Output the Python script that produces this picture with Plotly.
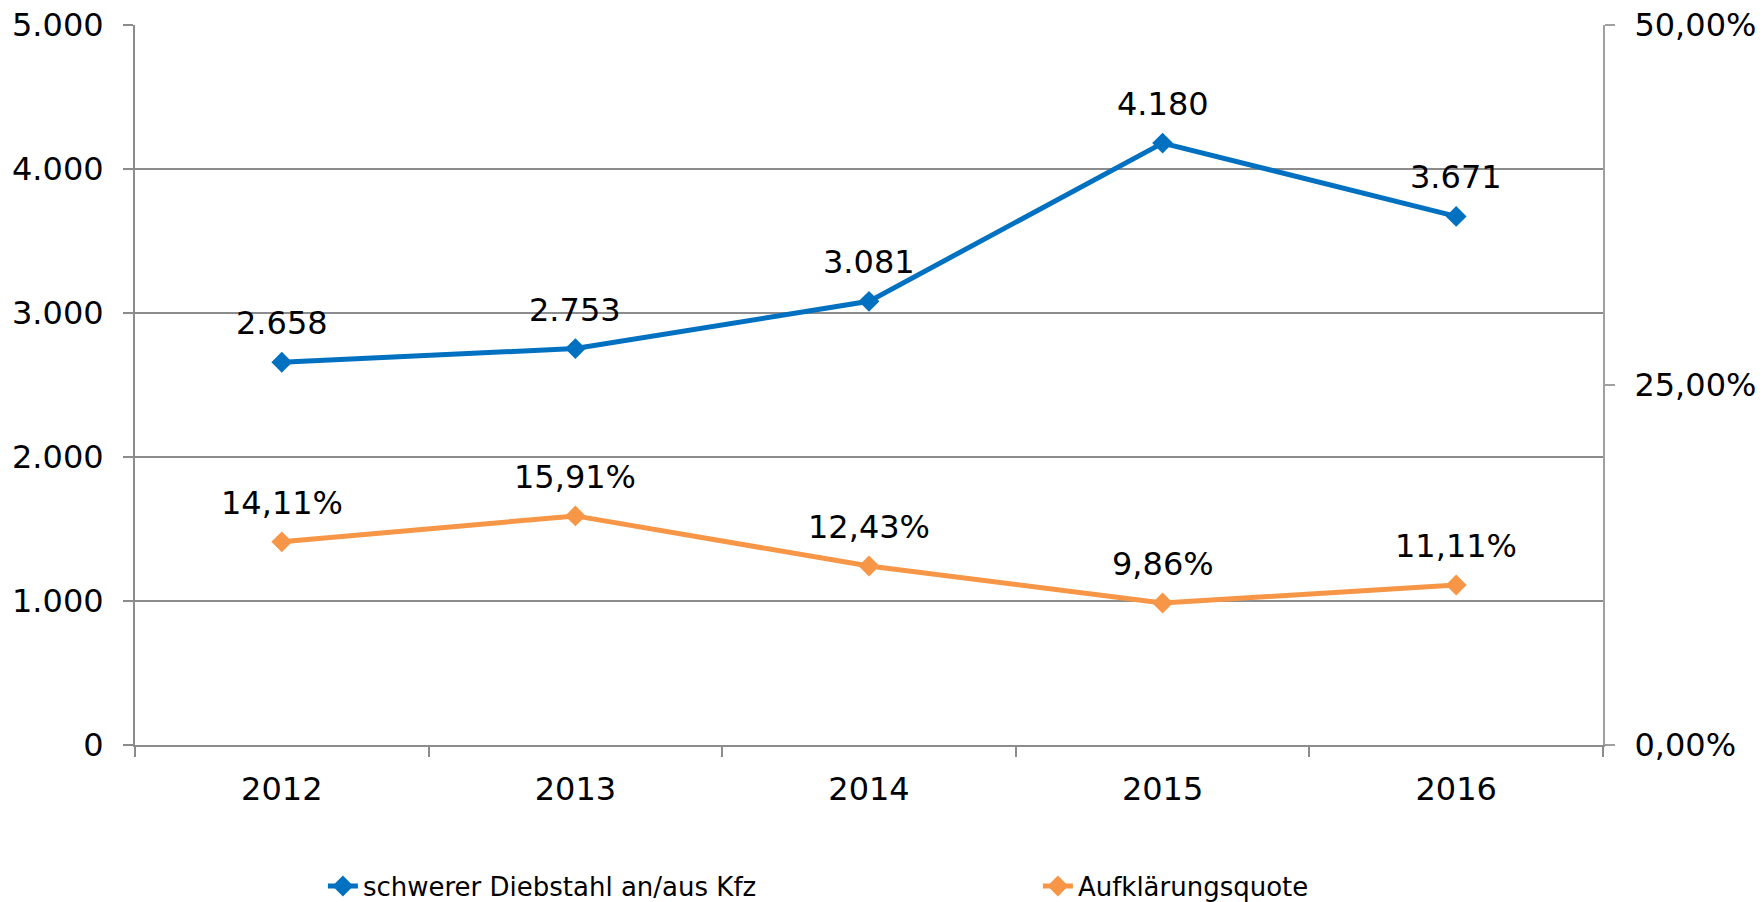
import plotly.graph_objects as go

years = ["2012", "2013", "2014", "2015", "2016"]
diebstahl = [2658, 2753, 3081, 4180, 3671]
quote = [0.1411, 0.1591, 0.1243, 0.0986, 0.1111]
name_d = "schwerer Diebstahl an/aus Kfz"
name_q = "Aufklärungsquote"
left_ticks = [0, 1000, 2000, 3000, 4000, 5000]
right_ticks = [0, 0.25, 0.5]

BLUE = "#0070C0"
ORANGE = "#F79646"
GRID = "#8c8c8c"
FONT = "DejaVu Sans"


def de_int(v):
    return f"{v:,}".replace(",", ".")


def de_pct(v):
    return f"{v*100:.2f}%".replace(".", ",")


fig = go.Figure()
fig.add_trace(go.Scatter(
    x=years, y=diebstahl, name=name_d, mode="lines+markers",
    line=dict(color=BLUE, width=5),
    marker=dict(symbol="diamond", size=16, color=BLUE),
    yaxis="y", cliponaxis=False,
))
fig.add_trace(go.Scatter(
    x=years, y=quote, name=name_q, mode="lines+markers",
    line=dict(color=ORANGE, width=5),
    marker=dict(symbol="diamond", size=16, color=ORANGE),
    yaxis="y2", cliponaxis=False,
))

annotations = []
for i, v in enumerate(diebstahl):
    annotations.append(dict(x=i, y=v, xref="x", yref="y", text=de_int(v),
                            showarrow=False, yanchor="middle", yshift=39,
                            font=dict(family=FONT, size=32, color="black")))
for i, v in enumerate(quote):
    annotations.append(dict(x=i, y=v, xref="x", yref="y2", text=de_pct(v),
                            showarrow=False, yanchor="middle", yshift=39,
                            font=dict(family=FONT, size=32, color="black")))

fig.update_layout(
    width=1763, height=902,
    margin=dict(l=135, r=160, t=25, b=157, autoexpand=False),
    paper_bgcolor="white", plot_bgcolor="white",
    separators=",.",
    font=dict(family=FONT, size=32, color="black"),
    showlegend=True,
    legend=dict(orientation="h", x=0.128, y=-0.196, xanchor="left", yanchor="middle",
                xref="paper", yref="paper",
                font=dict(family=FONT, size=26, color="black"),
                entrywidth=670, entrywidthmode="pixels", itemwidth=30,
                bgcolor="rgba(0,0,0,0)"),
    annotations=annotations,
    xaxis=dict(
        type="category", tickson="boundaries", ticks="outside", ticklen=10,
        tickwidth=2, tickcolor=GRID, showline=True, linecolor=GRID, linewidth=2,
        showgrid=False, ticklabelstandoff=15, automargin=False,
        ticklabeloverflow="allow",
        tickfont=dict(family=FONT, size=32, color="black"),
        range=[-0.5, 4.5],
    ),
    yaxis=dict(
        range=[0, 5000], tickvals=left_ticks, tickformat=",d",
        ticks="outside", ticklen=10, tickwidth=2, tickcolor=GRID,
        showline=True, linecolor=GRID, linewidth=2,
        showgrid=True, gridcolor=GRID, gridwidth=2, zeroline=False,
        ticklabelstandoff=13, automargin=False, ticklabeloverflow="allow",
        tickfont=dict(family=FONT, size=32, color="black"),
    ),
    yaxis2=dict(
        range=[0, 0.5], tickvals=right_ticks, tickformat=".2%",
        overlaying="y", side="right",
        ticks="outside", ticklen=10, tickwidth=2, tickcolor="#a0a0a0",
        showline=True, linecolor="#a0a0a0", linewidth=2,
        showgrid=False, zeroline=False, ticklabelstandoff=13, automargin=False,
        ticklabeloverflow="allow",
        tickfont=dict(family=FONT, size=32, color="black"),
    ),
)

fig.write_html(
    "out.html",
    config={"displayModeBar": False},
    post_script="document.body.style.margin='0';document.body.style.overflow='hidden';",
)
